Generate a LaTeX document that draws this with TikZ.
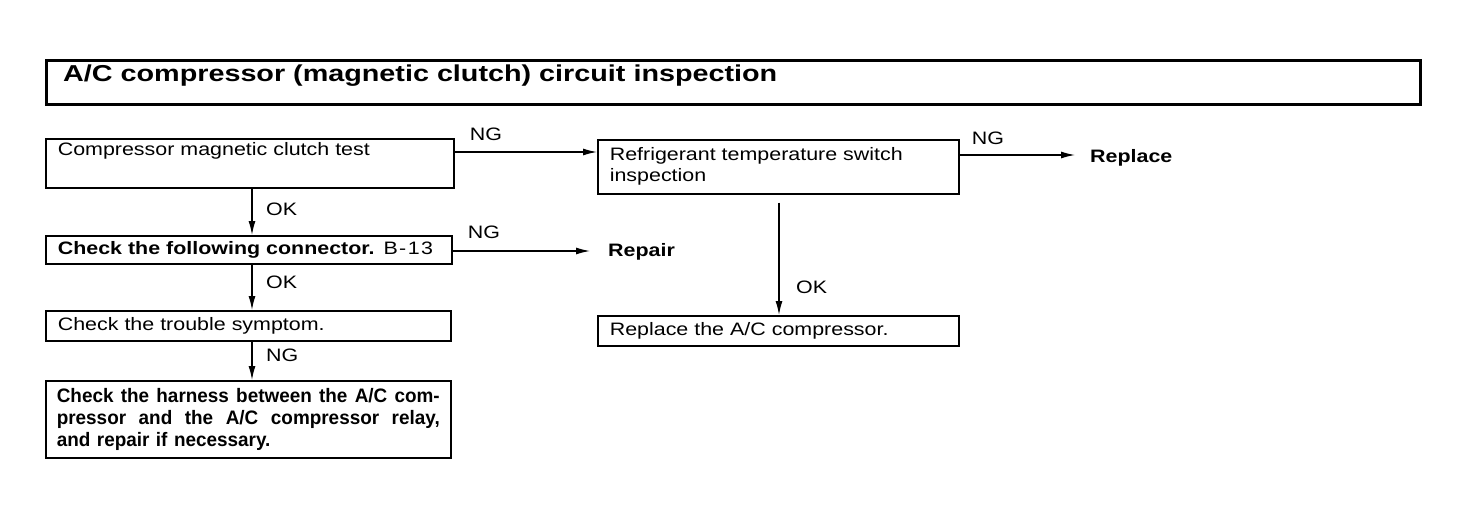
\documentclass[tikz,border=0pt]{standalone}
\usepackage{fontspec}
\setmainfont{Liberation Sans}[FakeStretch=1.19]
\newfontfamily\titlefont{Liberation Sans}[FakeStretch=1.25]
\newfontfamily\harnessfont{Liberation Sans}[FakeStretch=0.97]
\usetikzlibrary{arrows.meta,calc}
\newcommand\hwsp{\hfill}
\begin{document}
\begin{tikzpicture}[x=1pt,y=-1pt,
  txt/.style={font=\fontsize{18}{21}\selectfont},
  box/.style={draw,line width=1.6pt,anchor=north west,inner xsep=12pt,inner ysep=0pt,align=left,txt},
  arr/.style={line width=1.3pt,-{Latex[length=14pt,width=7pt]}},
  lbl/.style={txt,inner sep=0pt},
  res/.style={font=\fontsize{18}{21}\selectfont\bfseries,inner sep=0pt,anchor=base west}]
\useasboundingbox (0,0) rectangle (1472,512);
% title
\node[draw,line width=2.6pt,anchor=north west,minimum width=1374pt,minimum height=44pt,inner sep=0pt] (title) at (45,59) {};
\node[anchor=base west,inner sep=0pt,font=\titlefont\fontsize{23}{27}\selectfont\bfseries] (ttext) at (63,81) {A/C compressor (magnetic clutch) circuit inspection};
% left column
\node[box,minimum width=408pt,minimum height=49pt,text width=384pt] (b1) at (45,138) {Compressor magnetic clutch test\\[2pt]\strut};
\node[box,minimum width=406pt,minimum height=28pt,text width=382pt] (b2) at (45,235) {\textbf{Check the following connector.} {\addfontfeature{LetterSpace=8}B-13}};
\node[box,minimum width=405pt,minimum height=30pt,text width=381pt] (b3) at (45,310) {Check the trouble symptom.};
\node[box,minimum width=405pt,minimum height=77pt,text width=383pt,inner xsep=11pt,font=\harnessfont\fontsize{19.5}{22}\selectfont\bfseries] (b4) at (45,380) {\makebox[383pt][l]{Check\hwsp the\hwsp harness\hwsp between\hwsp the\hwsp A/C\hwsp com-}\\\makebox[383pt][l]{pressor\hwsp and\hwsp the\hwsp A/C\hwsp compressor\hwsp relay,}\\and repair if necessary.};
% right column
\node[box,minimum width=361pt,minimum height=54pt,text width=337pt] (r1) at (597,139) {Refrigerant temperature switch\\inspection};
\node[box,minimum width=361pt,minimum height=30pt,text width=337pt] (r2) at (597,315) {Replace the A/C compressor.};
% result texts
\node[res] (rep) at (1090,162) {Replace};
\node[res] (repair) at (608,256) {Repair};
% columns and arrow ends
\coordinate (cx) at (252,0);
\coordinate (rx) at (779,0);
\coordinate (e2) at (1075,0);
\coordinate (e3) at (590,0);
% connectors
\draw[arr] ($(b1.north east)+(0,14)$) coordinate (n1) -- (n1 -| r1.west);
\draw[arr] ($(r1.north east)+(0,16)$) coordinate (n2) -- (n2 -| e2);
\draw[arr] ($(b2.north east)+(0,16)$) coordinate (n3) -- (n3 -| e3);
\draw[arr] (b1.south -| cx) -- (b2.north -| cx);
\draw[arr] (b2.south -| cx) -- (b3.north -| cx);
\draw[arr] (b3.south -| cx) -- (b4.north -| cx);
\draw[arr] ($(r1.south -| rx)+(0,8)$) -- (r2.north -| rx);
% labels
\node[lbl] (l1) at (486,134) {NG};
\node[lbl] (l2) at (988,138) {NG};
\node[lbl] (l3) at (484,232) {NG};
\node[lbl,anchor=west] (l4) at (266,209) {OK};
\node[lbl,anchor=west] (l5) at (266,282) {OK};
\node[lbl,anchor=west] (l6) at (266,355) {NG};
\node[lbl,anchor=west] (l7) at (796,287) {OK};
\end{tikzpicture}
\end{document}
